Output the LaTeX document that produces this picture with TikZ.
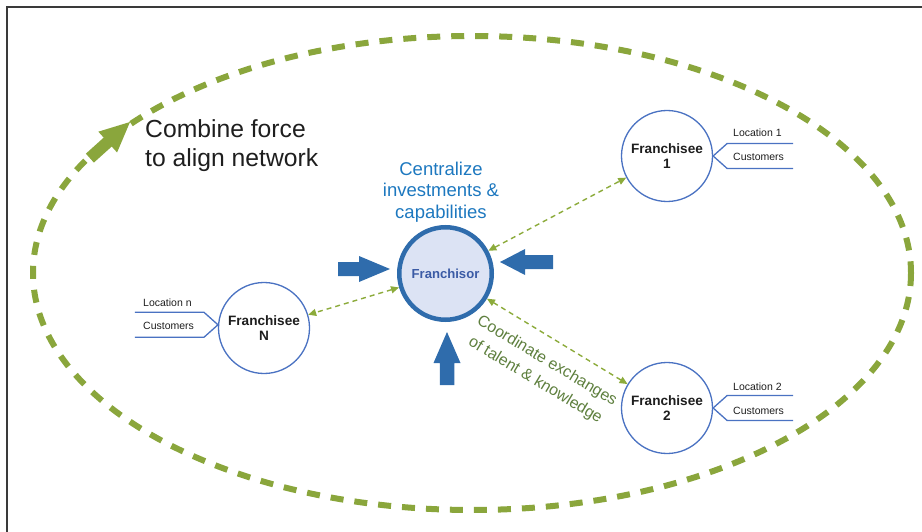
\documentclass[tikz,border=0pt]{standalone}
\usepackage{fontspec}
\setmainfont{Liberation Sans}
\usetikzlibrary{arrows.meta}

\definecolor{ringgreen}{HTML}{8AA63C}
\definecolor{linkgreen}{HTML}{8CAB3B}
\definecolor{hubblue}{HTML}{2F6CAC}
\definecolor{hubfill}{HTML}{DCE3F4}
\definecolor{hubtext}{HTML}{3B5BA5}
\definecolor{spokeblue}{HTML}{4A72C2}
\definecolor{capblue}{HTML}{1D78BF}
\definecolor{talentgreen}{HTML}{5E7F3E}
\definecolor{framegray}{HTML}{3A3A3A}
\definecolor{inkgray}{HTML}{1E1E1E}

% filled block arrow: colour, tip point, direction angle, total length,
% shaft width, head width, head length
\newcommand\blockarrow[7]{%
  \begin{scope}[shift={#2}, rotate=#3]
    \fill[#1] (0,0) -- (-#7,#6/2) -- (-#7,#5/2) -- (-#4,#5/2)
      -- (-#4,-#5/2) -- (-#7,-#5/2) -- (-#7,-#6/2) -- cycle;
  \end{scope}}

\begin{document}
\begin{tikzpicture}[x=1pt, y=-1pt,
  franchisee/.style={circle, draw=spokeblue, line width=1.3pt, fill=white,
    minimum size=91pt, inner sep=0pt, align=center, text=inkgray,
    font=\fontsize{13.6}{15.5}\selectfont\bfseries},
  hub/.style={circle, draw=hubblue, line width=4.5pt, fill=hubfill,
    minimum size=92.5pt, inner sep=0pt, text=hubtext,
    font=\fontsize{13.1}{15}\selectfont\bfseries},
  link/.style={draw=linkgreen, line width=1.4pt, dash pattern=on 5pt off 4pt,
    {Triangle[length=8pt,width=7pt]}-{Triangle[length=8pt,width=7pt]}},
  bracket/.style={draw=spokeblue, line width=1.3pt},
  tag/.style={font=\fontsize{10.5}{12}\selectfont, text=inkgray,
    inner sep=0pt, anchor=base west},
  ring/.style={draw=ringgreen, line width=6pt, dash pattern=on 13pt off 11pt},
]
\useasboundingbox (0,0) rectangle (922,532);

% outer frame (open towards the right and bottom)
\draw[framegray, line width=1.2pt] (7,532) -- (7,7) -- (922,7);

% dashed network ring with its arrow
\draw[ring] (472,273) ellipse [x radius=439, y radius=237];
\blockarrow{ringgreen}{(130,122)}{42}{54}{12}{28}{30}

% nodes
\node[hub] (hub) at (445.5,273.5) {Franchisor};
\node[franchisee] (f1) at (667,156) {Franchisee\\1};
\node[franchisee] (f2) at (667,408) {Franchisee\\2};
\node[franchisee] (fn) at (264,328) {Franchisee\\N};

% captions
\node[font=\fontsize{24.7}{29}\selectfont, text=inkgray, align=left,
  anchor=north west, inner sep=0pt] (combine) at (145,119)
  {Combine force\\to align network};
\node[font=\fontsize{18.5}{21.7}\selectfont, text=capblue, align=center,
  anchor=north, inner sep=0pt] (central) at (441,161.5)
  {Centralize\\investments \&\\capabilities};
\node[font=\fontsize{16}{22.5}\selectfont, text=talentgreen, align=center,
  rotate=-31, inner sep=0pt] (talent) at (541,371)
  {Coordinate exchanges\\of talent \& knowledge};

% exchange links
\draw[link] (hub) -- (f1);
\draw[link] (hub) -- (f2);
\draw[link] (hub) -- (fn);

% inward pushing arrows
\blockarrow{hubblue}{(390,269)}{0}{52}{14}{26}{31}
\blockarrow{hubblue}{(500,262)}{180}{53}{14}{26}{25}
\blockarrow{hubblue}{(447,332)}{90}{53}{14.5}{27}{31}

% location / customer brackets
\draw[bracket] (f1.east) ++(80,-12.5) -- ++(-66,0) -- (f1.east) -- ++(14,12.5) -- ++(66,0);
\draw[bracket] (f2.east) ++(80,-12.5) -- ++(-66,0) -- (f2.east) -- ++(14,12.5) -- ++(66,0);
\draw[bracket] (fn.176) ++(-83,-12.5) -- ++(69,0) -- (fn.176) -- ++(-14,12.5) -- ++(-69,0);

\node[tag] (loc1) at (733,136.7) {Location 1};
\node[tag] (cus1) at (733,160.7) {Customers};
\node[tag] (loc2) at (733,390) {Location 2};
\node[tag] (cus2) at (733,414) {Customers};
\node[tag] (locn) at (143,306) {Location n};
\node[tag] (cusn) at (143,329.3) {Customers};
\end{tikzpicture}
\end{document}
